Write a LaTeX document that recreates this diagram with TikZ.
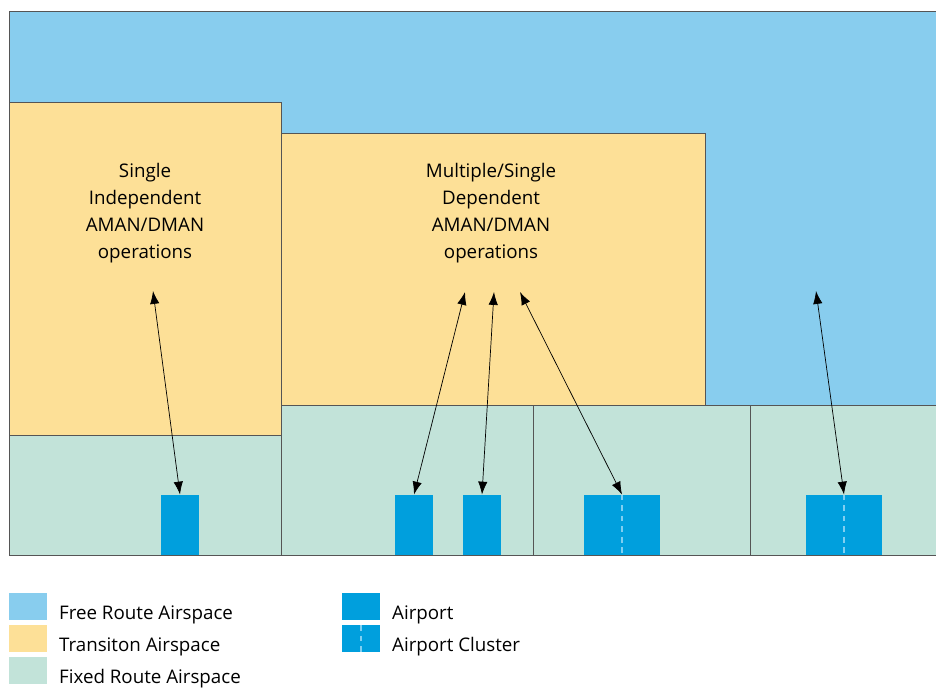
\documentclass[tikz,border=0pt]{standalone}
\usepackage{fontspec}
\setmainfont{Open Sans}
\usetikzlibrary{arrows.meta}
\definecolor{freeroute}{HTML}{88CDEE}
\definecolor{transition}{HTML}{FDE097}
\definecolor{fixedroute}{HTML}{C2E3D9}
\definecolor{airportblue}{HTML}{009FDD}
\definecolor{clusterline}{HTML}{80CFF1}
\definecolor{edgegray}{HTML}{555555}
\tikzset{
  airport/.style={fill=airportblue, draw=none, inner sep=0pt, minimum width=1.14cm, minimum height=1.8cm, anchor=south},
  cluster/.style={airport, minimum width=2.28cm},
  link/.style={{Latex[length=11pt,width=8pt]}-{Latex[length=11pt,width=8pt]}, line width=0.6pt},
  opslabel/.style={align=center, font=\fontsize{16}{23}\selectfont},
  legendlabel/.style={anchor=west, font=\fontsize{16}{18}\selectfont}
}
\begin{document}
\begin{tikzpicture}[x=0.03cm,y=-0.03cm]
            \useasboundingbox (0,0) rectangle (936,687);
            \begin{scope}[draw=edgegray, line width=0.8pt]
                % airspace blocks
                \fill[freeroute] (9,11) rectangle (936,555);
                \draw (936,11) -- (9,11) -- (9,555) -- (936,555);
                \filldraw[fill=transition] (9,102) rectangle (281,435);
                \filldraw[fill=transition] (281,133) rectangle (705,405);
                \filldraw[fill=fixedroute] (9,435) rectangle (281,555);
                \filldraw[fill=fixedroute] (281,405) rectangle (533,555);
                \filldraw[fill=fixedroute] (533,405) rectangle (750,555);
                \fill[fixedroute] (750,405) rectangle (936,555);
                \draw (750,555) -- (750,405) -- (936,405);
            \end{scope}
            % labels
            \node[opslabel] (single) at (145,213) {Single\\Independent\\AMAN/DMAN\\operations};
            \node[opslabel] (multi) at (491,213) {Multiple/Single\\Dependent\\AMAN/DMAN\\operations};
            % airports
            \node[airport] (ap1) at (180,555) {};
            \node[airport] (ap2) at (414,555) {};
            \node[airport] (ap3) at (482,555) {};
            \node[cluster] (cl1) at (622,555) {};
            \node[cluster] (cl2) at (844,555) {};
            \draw[clusterline, line width=1.2pt, dash pattern=on 5pt off 4pt] (cl1.north) -- (cl1.south);
            \draw[clusterline, line width=1.2pt, dash pattern=on 5pt off 4pt] (cl2.north) -- (cl2.south);
            % arrow ends
            \coordinate (t1) at (153,291);
            \coordinate (t2) at (465,292);
            \coordinate (t3) at (494,292);
            \coordinate (t4) at (520,292);
            \coordinate (t5) at (816,291);
            \draw[link] (t1) -- (ap1.north);
            \draw[link] (t2) -- (ap2.north);
            \draw[link] (t3) -- (ap3.north);
            \draw[link] (t4) -- (cl1.north);
            \draw[link] (t5) -- (cl2.north);
            % legend
            \fill[freeroute] (9,593) rectangle (47,620);
            \fill[transition] (9,625) rectangle (47,652);
            \fill[fixedroute] (9,657) rectangle (47,684);
            \node[legendlabel] (lfree) at (55,615) {Free Route Airspace};
            \node[legendlabel] (ltrans) at (55,647) {Transiton Airspace};
            \node[legendlabel] (lfixed) at (55,679) {Fixed Route Airspace};
            \fill[airportblue] (342,593) rectangle (380,620);
            \fill[airportblue] (342,625) rectangle (380,652);
            \draw[clusterline, line width=1.2pt, dash pattern=on 5pt off 4pt] (361,625) -- (361,652);
            \node[legendlabel] (lap) at (388,615) {Airport};
            \node[legendlabel] (lcl) at (388,647) {Airport Cluster};
        \end{tikzpicture}
\end{document}
